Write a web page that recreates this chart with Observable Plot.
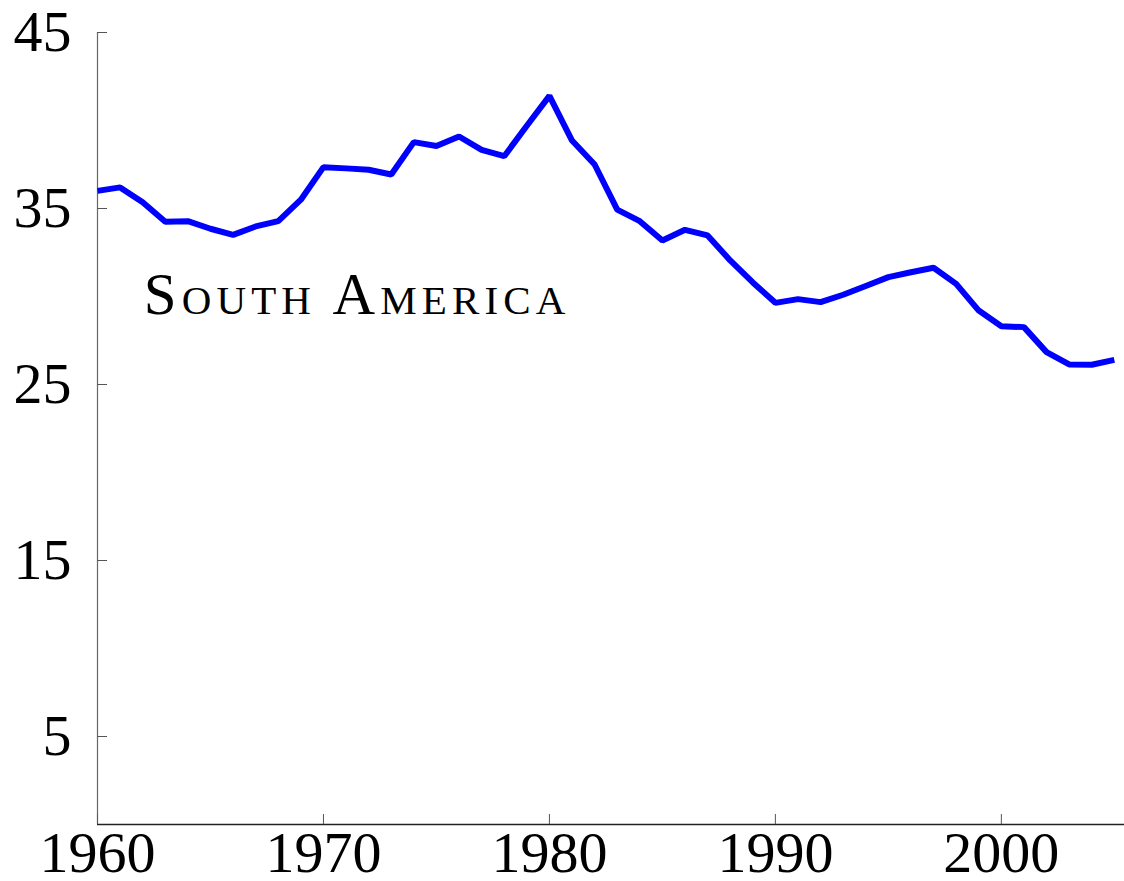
<!DOCTYPE html>
<html>
<head>
<meta charset="utf-8">
<script src="https://cdn.jsdelivr.net/npm/d3@7"></script>
<script src="https://cdn.jsdelivr.net/npm/@observablehq/plot@0.6"></script>
<style>
  html, body { margin: 0; padding: 0; background: #fff; }
  #chart svg { display: block; }
</style>
</head>
<body>
<div id="chart"></div>
<script>
const years = [1960,1961,1962,1963,1964,1965,1966,1967,1968,1969,
               1970,1971,1972,1973,1974,1975,1976,1977,1978,1979,
               1980,1981,1982,1983,1984,1985,1986,1987,1988,1989,
               1990,1991,1992,1993,1994,1995,1996,1997,1998,1999,
               2000,2001,2002,2003,2004,2005];
const values = [36.0,36.2,35.35,34.25,34.28,33.85,33.5,33.98,34.28,35.5,
                37.35,37.28,37.2,36.93,38.77,38.55,39.09,38.33,37.97,39.7,
                41.4,38.86,37.5,34.94,34.28,33.18,33.79,33.47,32.05,30.8,
                29.64,29.85,29.68,30.1,30.6,31.1,31.38,31.63,30.72,29.2,
                28.31,28.26,26.84,26.14,26.12,26.4];
const xTicks = [1960, 1970, 1980, 1990, 2000];
const yTicks = [5, 15, 25, 35, 45];
const labelText = ["South America"];
const labelYear = [1962.05];
const labelValue = [29.0];

const data = years.map((y, i) => ({year: y, value: values[i]}));
const labels = labelText.map((t, i) => ({text: t, year: labelYear[i], value: labelValue[i]}));

const font = "'Liberation Serif', 'DejaVu Serif', serif";

const chart = Plot.plot({
  width: 1124,
  height: 881,
  marginLeft: 97,
  marginRight: 0,
  marginTop: 32,
  marginBottom: 57,
  style: {fontFamily: font, background: "#fff"},
  x: {domain: [1960, 2005.45]},
  y: {domain: [0, 45]},
  marks: [
    Plot.ruleX([1960], {stroke: "#666", strokeWidth: 1.2}),
    Plot.ruleY([0], {stroke: "#222", strokeWidth: 1.5}),
    Plot.axisY(yTicks, {anchor: "left", tickSize: 10, dx: 10, text: null, stroke: "#555", label: null}),
    Plot.axisX(xTicks, {anchor: "bottom", tickSize: 10, dy: -10, text: null, stroke: "#555", label: null}),
    Plot.axisY(yTicks, {anchor: "left", tickSize: 0, tickPadding: 26, fontSize: 58, fill: "#000", label: null, tickFormat: d => String(d)}),
    Plot.axisX(xTicks, {anchor: "bottom", tickSize: 0, tickPadding: 6, fontSize: 58, fill: "#000", label: null, tickFormat: d => String(d)}),
    Plot.line(data, {x: "year", y: "value", stroke: "#0000ff", strokeWidth: 6, strokeLinejoin: "miter", strokeLinecap: "butt"}),
    Plot.text(labels, {x: "year", y: "value", text: "text", textAnchor: "start", lineAnchor: "bottom",
      fontSize: 59, fontVariant: "small-caps", fill: "#000", fontFamily: font})
  ]
});
d3.select(chart).selectAll("g[aria-label='text'] text").style("letter-spacing", "5.1px");
document.getElementById("chart").appendChild(chart);
</script>
</body>
</html>
